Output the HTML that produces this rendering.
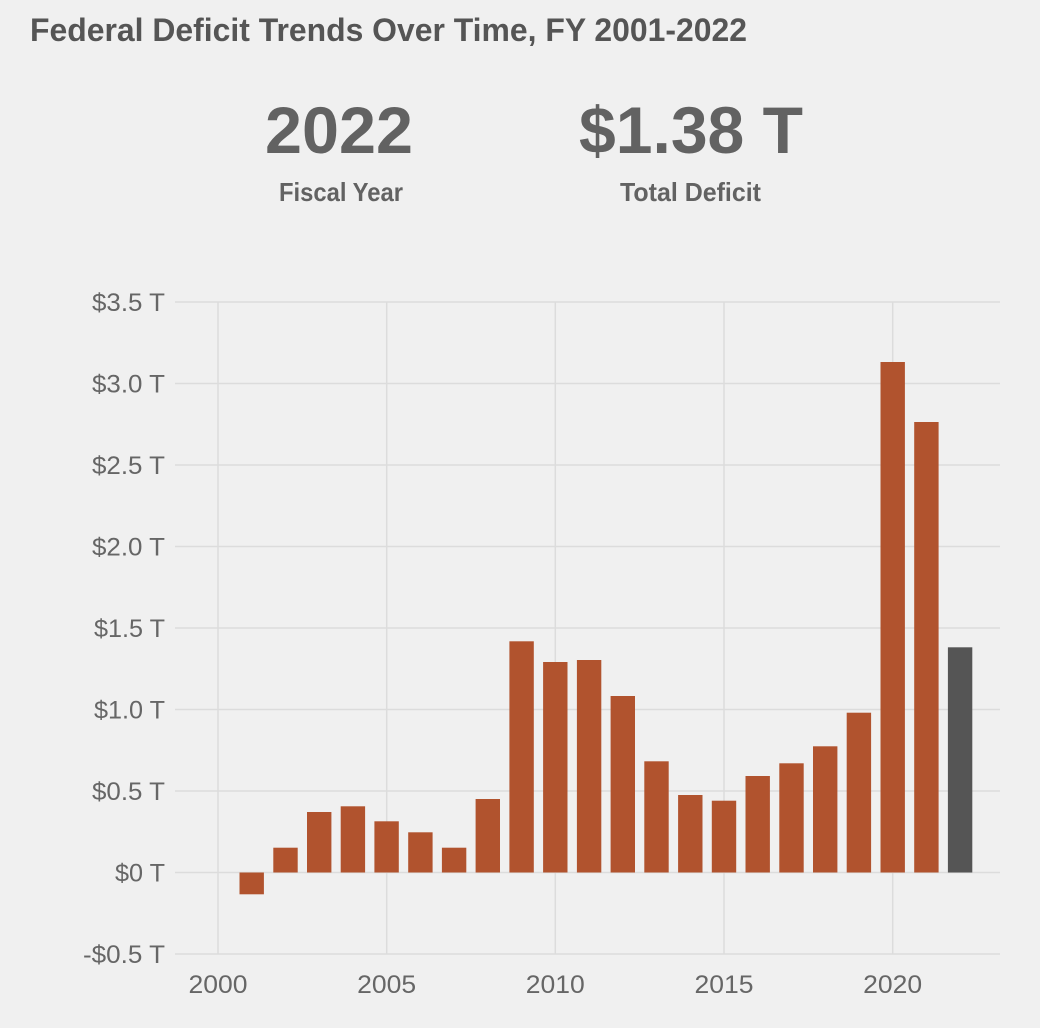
<!DOCTYPE html>
<html><head><meta charset="utf-8"><style>
html,body{margin:0;padding:0;background:#f0f0f0;}
svg{display:block;}
text{font-family:"Liberation Sans",sans-serif;}
</style></head><body>
<svg width="1040" height="1028" viewBox="0 0 1040 1028" xmlns="http://www.w3.org/2000/svg">
<rect x="0" y="0" width="1040" height="1028" fill="#f0f0f0"/>
<text x="30" y="41" font-size="32" font-weight="bold" fill="#555555" textLength="717" lengthAdjust="spacingAndGlyphs">Federal Deficit Trends Over Time, FY 2001-2022</text>
<text x="265" y="153" font-size="66" font-weight="bold" fill="#626262" textLength="148" lengthAdjust="spacingAndGlyphs">2022</text>
<text x="279" y="201" font-size="26" font-weight="bold" fill="#626262" textLength="124" lengthAdjust="spacingAndGlyphs">Fiscal Year</text>
<text x="579" y="153" font-size="66" font-weight="bold" fill="#626262" textLength="224" lengthAdjust="spacingAndGlyphs">$1.38 T</text>
<text x="620" y="201" font-size="26" font-weight="bold" fill="#626262" textLength="141" lengthAdjust="spacingAndGlyphs">Total Deficit</text>
<g stroke="#dcdcdc" stroke-width="1.5">
<line x1="175" y1="302" x2="1000" y2="302"/>
<line x1="175" y1="383.5" x2="1000" y2="383.5"/>
<line x1="175" y1="465" x2="1000" y2="465"/>
<line x1="175" y1="546.5" x2="1000" y2="546.5"/>
<line x1="175" y1="628" x2="1000" y2="628"/>
<line x1="175" y1="709.5" x2="1000" y2="709.5"/>
<line x1="175" y1="791" x2="1000" y2="791"/>
<line x1="175" y1="872.5" x2="1000" y2="872.5"/>
<line x1="175" y1="954" x2="1000" y2="954"/>
<line x1="218" y1="302" x2="218" y2="954"/>
<line x1="386.7" y1="302" x2="386.7" y2="954"/>
<line x1="555.3" y1="302" x2="555.3" y2="954"/>
<line x1="724" y1="302" x2="724" y2="954"/>
<line x1="892.7" y1="302" x2="892.7" y2="954"/>
</g>
<g fill="#666666" font-size="25">
<text x="92" y="311" textLength="73" lengthAdjust="spacingAndGlyphs">$3.5 T</text>
<text x="92" y="392.5" textLength="73" lengthAdjust="spacingAndGlyphs">$3.0 T</text>
<text x="92" y="474" textLength="73" lengthAdjust="spacingAndGlyphs">$2.5 T</text>
<text x="92" y="555.5" textLength="73" lengthAdjust="spacingAndGlyphs">$2.0 T</text>
<text x="94" y="637" textLength="71" lengthAdjust="spacingAndGlyphs">$1.5 T</text>
<text x="94" y="718.5" textLength="71" lengthAdjust="spacingAndGlyphs">$1.0 T</text>
<text x="92" y="800" textLength="73" lengthAdjust="spacingAndGlyphs">$0.5 T</text>
<text x="115" y="881.5" textLength="50" lengthAdjust="spacingAndGlyphs">$0 T</text>
<text x="83" y="963" textLength="82" lengthAdjust="spacingAndGlyphs">-$0.5 T</text>
</g>
<g fill="#666666" font-size="25">
<text x="188.5" y="993" textLength="59" lengthAdjust="spacingAndGlyphs">2000</text>
<text x="357.2" y="993" textLength="59" lengthAdjust="spacingAndGlyphs">2005</text>
<text x="525.8" y="993" textLength="59" lengthAdjust="spacingAndGlyphs">2010</text>
<text x="694.5" y="993" textLength="59" lengthAdjust="spacingAndGlyphs">2015</text>
<text x="863.2" y="993" textLength="59" lengthAdjust="spacingAndGlyphs">2020</text>
</g>
<g fill="#b1532e">
<rect x="239.5" y="872.5" width="24.4" height="21.8"/>
<rect x="273.3" y="847.7" width="24.4" height="24.8"/>
<rect x="307" y="812" width="24.4" height="60.5"/>
<rect x="340.7" y="806.3" width="24.4" height="66.2"/>
<rect x="374.4" y="821.3" width="24.4" height="51.2"/>
<rect x="408.2" y="832.3" width="24.4" height="40.2"/>
<rect x="441.9" y="847.7" width="24.4" height="24.8"/>
<rect x="475.6" y="799" width="24.4" height="73.5"/>
<rect x="509.4" y="641.3" width="24.4" height="231.2"/>
<rect x="543.1" y="662" width="24.4" height="210.5"/>
<rect x="576.9" y="660" width="24.4" height="212.5"/>
<rect x="610.6" y="696" width="24.4" height="176.5"/>
<rect x="644.3" y="761.3" width="24.4" height="111.2"/>
<rect x="678.1" y="795" width="24.4" height="77.5"/>
<rect x="711.8" y="800.7" width="24.4" height="71.8"/>
<rect x="745.5" y="776" width="24.4" height="96.5"/>
<rect x="779.3" y="763.3" width="24.4" height="109.2"/>
<rect x="813" y="746.3" width="24.4" height="126.2"/>
<rect x="846.7" y="712.7" width="24.4" height="159.8"/>
<rect x="880.5" y="362" width="24.4" height="510.5"/>
<rect x="914.2" y="422" width="24.4" height="450.5"/>
</g>
<rect x="947.9" y="647.3" width="24.4" height="225.2" fill="#555555"/>
</svg>
</body></html>
